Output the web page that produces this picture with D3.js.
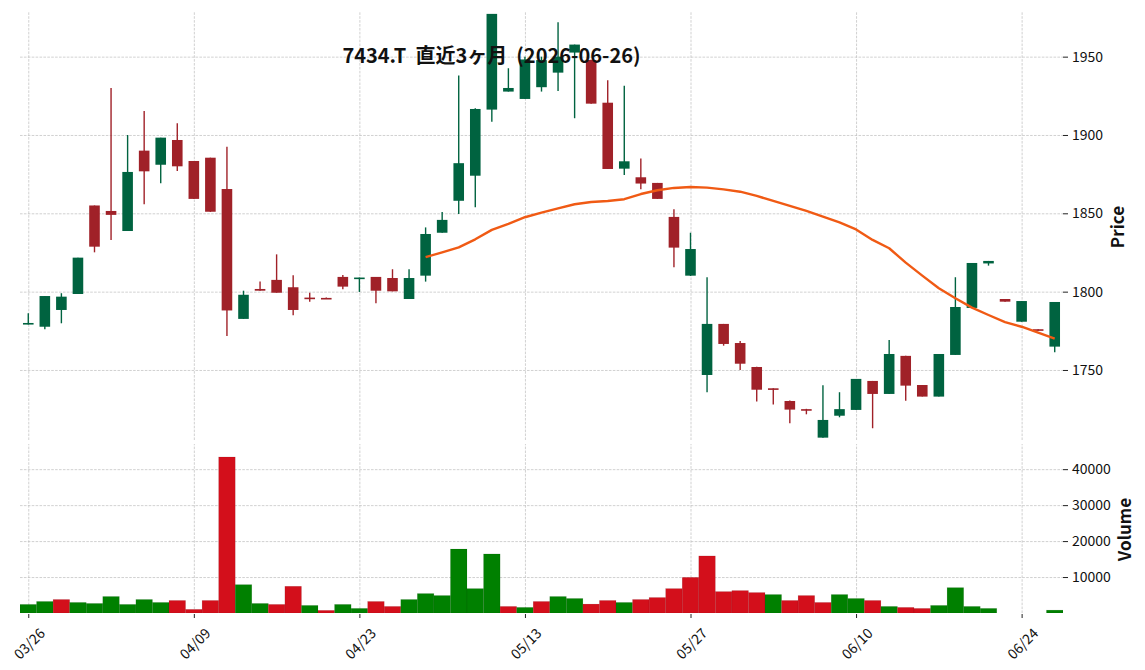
<!DOCTYPE html>
<html>
<head>
<meta charset="utf-8">
<script src="https://cdn.jsdelivr.net/npm/d3@7/dist/d3.min.js"></script>
<style>
  html, body { margin: 0; padding: 0; background: #ffffff; }
  svg { display: block; }
  text { font-family: "Noto Sans CJK JP", "Noto Sans", sans-serif; }
</style>
</head>
<body>
<svg id="chart" width="1145" height="670"></svg>
<script>
// ---------------- data ----------------
const dates = [
  "03/26","03/27","03/30","03/31","04/01","04/02","04/03","04/06","04/07","04/08",
  "04/09","04/10","04/13","04/14","04/15","04/16","04/17","04/20","04/21","04/22",
  "04/23","04/24","04/27","04/28","04/30","05/01","05/07","05/08","05/11","05/12",
  "05/13","05/14","05/15","05/18","05/19","05/20","05/21","05/22","05/25","05/26",
  "05/27","05/28","05/29","06/01","06/02","06/03","06/04","06/05","06/08","06/09",
  "06/10","06/11","06/12","06/15","06/16","06/17","06/18","06/19","06/22","06/23",
  "06/24","06/25","06/26"
];
const openP = [
  1779.2,1777.6,1788.3,1798.5,1855.0,1851.5,1838.7,1890.0,1881.0,1896.8,
  1883.4,1885.5,1865.5,1782.6,1801.7,1807.5,1802.8,1796.2,1796.0,1809.4,
  1808.2,1809.4,1808.7,1795.3,1810.2,1837.6,1858.0,1874.0,1916.2,1927.7,
  1923.0,1930.5,1939.8,1952.6,1947.9,1920.6,1878.5,1873.0,1869.4,1847.7,
  1810.2,1746.8,1779.4,1767.2,1751.9,1738.3,1730.2,1725.0,1706.8,1720.8,
  1724.5,1743.0,1734.7,1759.0,1740.4,1733.0,1759.6,1789.6,1818.0,1795.3,
  1780.8,1776.0,1764.9
];
const highP = [
  1786.2,1797.2,1799.0,1821.7,1855.0,1930.0,1900.0,1915.3,1898.3,1907.5,
  1883.4,1885.5,1892.5,1800.6,1806.4,1823.8,1810.4,1799.3,1796.3,1810.6,
  1809.0,1809.4,1814.3,1814.3,1841.0,1850.9,1937.9,1917.0,1977.3,1942.6,
  1950.0,1950.0,1972.0,1957.7,1948.0,1935.0,1931.5,1885.0,1869.4,1852.6,
  1837.6,1809.2,1779.4,1768.5,1752.0,1738.3,1730.5,1725.2,1740.2,1735.8,
  1744.3,1743.0,1769.1,1759.0,1740.4,1760.2,1809.2,1818.3,1819.6,1795.3,
  1794.0,1776.0,1793.4
];
const lowP = [
  1779.0,1776.0,1779.8,1798.5,1825.1,1833.0,1838.7,1855.8,1869.2,1877.0,
  1859.2,1850.9,1771.7,1782.6,1800.6,1799.3,1785.0,1793.6,1795.3,1801.5,
  1799.8,1792.6,1800.2,1795.3,1806.4,1837.6,1849.6,1853.9,1908.5,1927.7,
  1923.0,1927.7,1928.0,1910.7,1920.0,1878.3,1874.5,1865.3,1859.2,1815.6,
  1810.0,1735.8,1765.5,1750.0,1729.8,1728.0,1716.0,1721.7,1706.8,1719.8,
  1724.5,1712.8,1734.7,1730.4,1733.0,1733.0,1759.6,1789.6,1816.6,1793.6,
  1780.8,1775.0,1761.3
];
const closeP = [
  1780.0,1797.2,1796.8,1821.7,1828.7,1849.0,1876.4,1876.8,1898.3,1880.0,
  1859.2,1851.0,1788.0,1798.0,1800.6,1799.3,1788.3,1795.8,1795.5,1803.2,
  1809.0,1800.6,1800.2,1808.7,1836.8,1845.8,1882.0,1916.6,1977.3,1930.0,
  1948.2,1947.8,1950.0,1957.7,1920.0,1878.3,1883.2,1869.0,1859.2,1828.1,
  1827.2,1779.4,1766.6,1754.0,1737.4,1737.6,1724.7,1724.0,1718.1,1725.0,
  1744.3,1734.7,1760.2,1740.0,1733.0,1760.2,1790.2,1818.3,1819.6,1793.6,
  1794.0,1775.0,1793.4
];
const volume = [
  2390,3210,3760,2940,2660,4590,2390,3760,2940,3490,
  1010,3490,43390,7890,2660,2390,7430,2110,730,2390,
  1280,3210,1830,3760,5410,4860,17800,6790,16420,1830,
  1560,3210,4590,4040,2480,3490,2940,3760,4310,6790,
  9910,15870,5960,6240,5690,5140,3490,4860,2940,5140,
  4040,3490,1830,1560,1280,2110,7060,1830,1280,0,
  0,0,800
];
// 25-day moving average as drawn (starts at the 25th session)
const maStart = 24;
const ma25 = [
  1822.0,1825.1,1828.3,1833.4,1839.4,1843.2,1847.5,1850.4,1853.2,1855.8,
  1857.2,1857.9,1859.0,1862.3,1864.7,1866.2,1866.8,1866.4,1865.3,1863.8,
  1861.1,1857.9,1854.7,1851.5,1847.9,1844.2,1839.7,1833.0,1827.7,1818.5,
  1810.2,1802.2,1795.8,1789.8,1785.1,1780.6,1777.6,1773.8,1770.0
];
const priceTicks = [1750, 1800, 1850, 1900, 1950];
const volumeTicks = [10000, 20000, 30000, 40000];
const xTickIdx = [0, 10, 20, 30, 40, 50, 60];
const titleText = "7434.T  直近3ヶ月  (2026-06-26)";

// ---------------- layout ----------------
const W = 1145, H = 670;
const L = 20, R = 1063;
const pTop = 12, pBot = 440;
const vTop = 444, vBot = 613;

const candleUp = "#006340", candleDown = "#a02128";
const volUp = "#008000", volDown = "#d30f1b";
const maColor = "#f05a14";
const gridColor = "#bdbdbd";

const svg = d3.select("#chart");
const n = dates.length;
const idx = d3.range(n);

const x = d3.scaleLinear().domain([-0.5, n - 0.5]).range([L, R]);
const yP = d3.scaleLinear().domain([1705.3, 1978.5]).range([pBot, pTop]);
const yV = d3.scaleLinear().domain([0, 47000]).range([vBot, vTop]);
const step = x(1) - x(0);

svg.append("rect").attr("width", W).attr("height", H).attr("fill", "#fff");

const defs = svg.append("defs");
defs.append("clipPath").attr("id", "clipP")
  .append("rect").attr("x", L).attr("y", pTop).attr("width", R - L).attr("height", pBot - pTop);
defs.append("clipPath").attr("id", "clipV")
  .append("rect").attr("x", L).attr("y", vTop).attr("width", R - L).attr("height", vBot - vTop);

// ---------------- grids ----------------
function styleGrid(g) {
  g.select(".domain").remove();
  g.selectAll(".tick line")
    .attr("stroke", gridColor).attr("stroke-width", 0.7)
    .attr("stroke-dasharray", "2.6,1.3");
  g.selectAll(".tick text").remove();
}
// price panel grid
svg.append("g").attr("transform", `translate(${L},0)`)
  .call(d3.axisLeft(yP).tickValues(priceTicks).tickSize(-(R - L)))
  .call(styleGrid);
svg.append("g").attr("transform", `translate(0,${pBot})`)
  .call(d3.axisTop(x).tickValues(xTickIdx).tickSize(pBot - pTop))
  .call(styleGrid);
// volume panel grid
svg.append("g").attr("transform", `translate(${L},0)`)
  .call(d3.axisLeft(yV).tickValues(volumeTicks).tickSize(-(R - L)))
  .call(styleGrid);
svg.append("g").attr("transform", `translate(0,${vBot})`)
  .call(d3.axisTop(x).tickValues(xTickIdx).tickSize(vBot - vTop))
  .call(styleGrid);

// ---------------- candles ----------------
const bodyW = step * 0.64;
const cg = svg.append("g").attr("clip-path", "url(#clipP)");
const candle = cg.selectAll("g.c").data(idx).join("g").attr("class", "c");
candle.append("line")
  .attr("x1", i => x(i)).attr("x2", i => x(i))
  .attr("y1", i => yP(highP[i])).attr("y2", i => yP(lowP[i]))
  .attr("stroke", i => closeP[i] >= openP[i] ? candleUp : candleDown)
  .attr("stroke-width", 1.4);
candle.append("rect")
  .attr("x", i => x(i) - bodyW / 2)
  .attr("width", bodyW)
  .attr("y", i => yP(Math.max(openP[i], closeP[i])))
  .attr("height", i => Math.max(1.6, Math.abs(yP(openP[i]) - yP(closeP[i]))))
  .attr("fill", i => closeP[i] >= openP[i] ? candleUp : candleDown);

// moving average
const maLine = d3.line()
  .x((d, k) => x(maStart + k))
  .y(d => yP(d))
  .curve(d3.curveLinear);
cg.append("path").datum(ma25)
  .attr("d", maLine)
  .attr("fill", "none")
  .attr("stroke", maColor)
  .attr("stroke-width", 2.4)
  .attr("stroke-linejoin", "round");

// ---------------- volume ----------------
const vg = svg.append("g").attr("clip-path", "url(#clipV)");
vg.selectAll("rect.v").data(idx.filter(i => volume[i] > 0)).join("rect")
  .attr("class", "v")
  .attr("x", i => x(i) - step / 2)
  .attr("width", step)
  .attr("y", i => yV(volume[i]))
  .attr("height", i => vBot - yV(volume[i]))
  .attr("fill", i => (i === 0 || closeP[i] >= closeP[i - 1]) ? volUp : volDown)
  .attr("stroke", "rgba(0,0,0,0.12)")
  .attr("stroke-width", 0.6);

// ---------------- axes ----------------
function styleAxis(g) {
  g.select(".domain").remove();
  g.selectAll(".tick line").attr("stroke", "#222").attr("stroke-width", 1);
  g.selectAll(".tick text")
    .attr("fill", "#111")
    .style("font-family", '"Noto Sans CJK JP", "Noto Sans", sans-serif')
    .style("font-size", "14px");
}
svg.append("g").attr("transform", `translate(${R},0)`)
  .call(d3.axisRight(yP).tickValues(priceTicks).tickSize(5).tickPadding(4).tickFormat(d3.format("d")))
  .call(styleAxis);
svg.append("g").attr("transform", `translate(${R},0)`)
  .call(d3.axisRight(yV).tickValues(volumeTicks).tickSize(5).tickPadding(4).tickFormat(d3.format("d")))
  .call(styleAxis);

const xAxisG = svg.append("g").attr("transform", `translate(0,${vBot + 1})`)
  .call(d3.axisBottom(x).tickValues(xTickIdx).tickSize(4).tickFormat(i => dates[i]))
  .call(styleAxis);
xAxisG.selectAll(".tick text")
  .attr("y", 0).attr("dy", null)
  .attr("text-anchor", "middle")
  .attr("dominant-baseline", "central")
  .attr("transform", "translate(0,29) rotate(-45)");

// axis titles
svg.append("text")
  .attr("transform", `translate(1124,${(pTop + pBot) / 2 + 1}) rotate(-90)`)
  .attr("text-anchor", "middle")
  .style("font-size", "17px").style("font-weight", "bold")
  .attr("fill", "#111")
  .text("Price");
svg.append("text")
  .attr("transform", `translate(1131,${(vTop + vBot) / 2 + 1}) rotate(-90)`)
  .attr("text-anchor", "middle")
  .style("font-size", "17px").style("font-weight", "bold")
  .attr("fill", "#111")
  .text("Volume");

// title
svg.append("text")
  .attr("x", 491.5).attr("y", 63)
  .attr("text-anchor", "middle")
  .style("font-size", "20px").style("font-weight", "bold")
  .style("white-space", "pre")
  .attr("xml:space", "preserve")
  .attr("fill", "#111")
  .text(titleText);
</script>
</body>
</html>
